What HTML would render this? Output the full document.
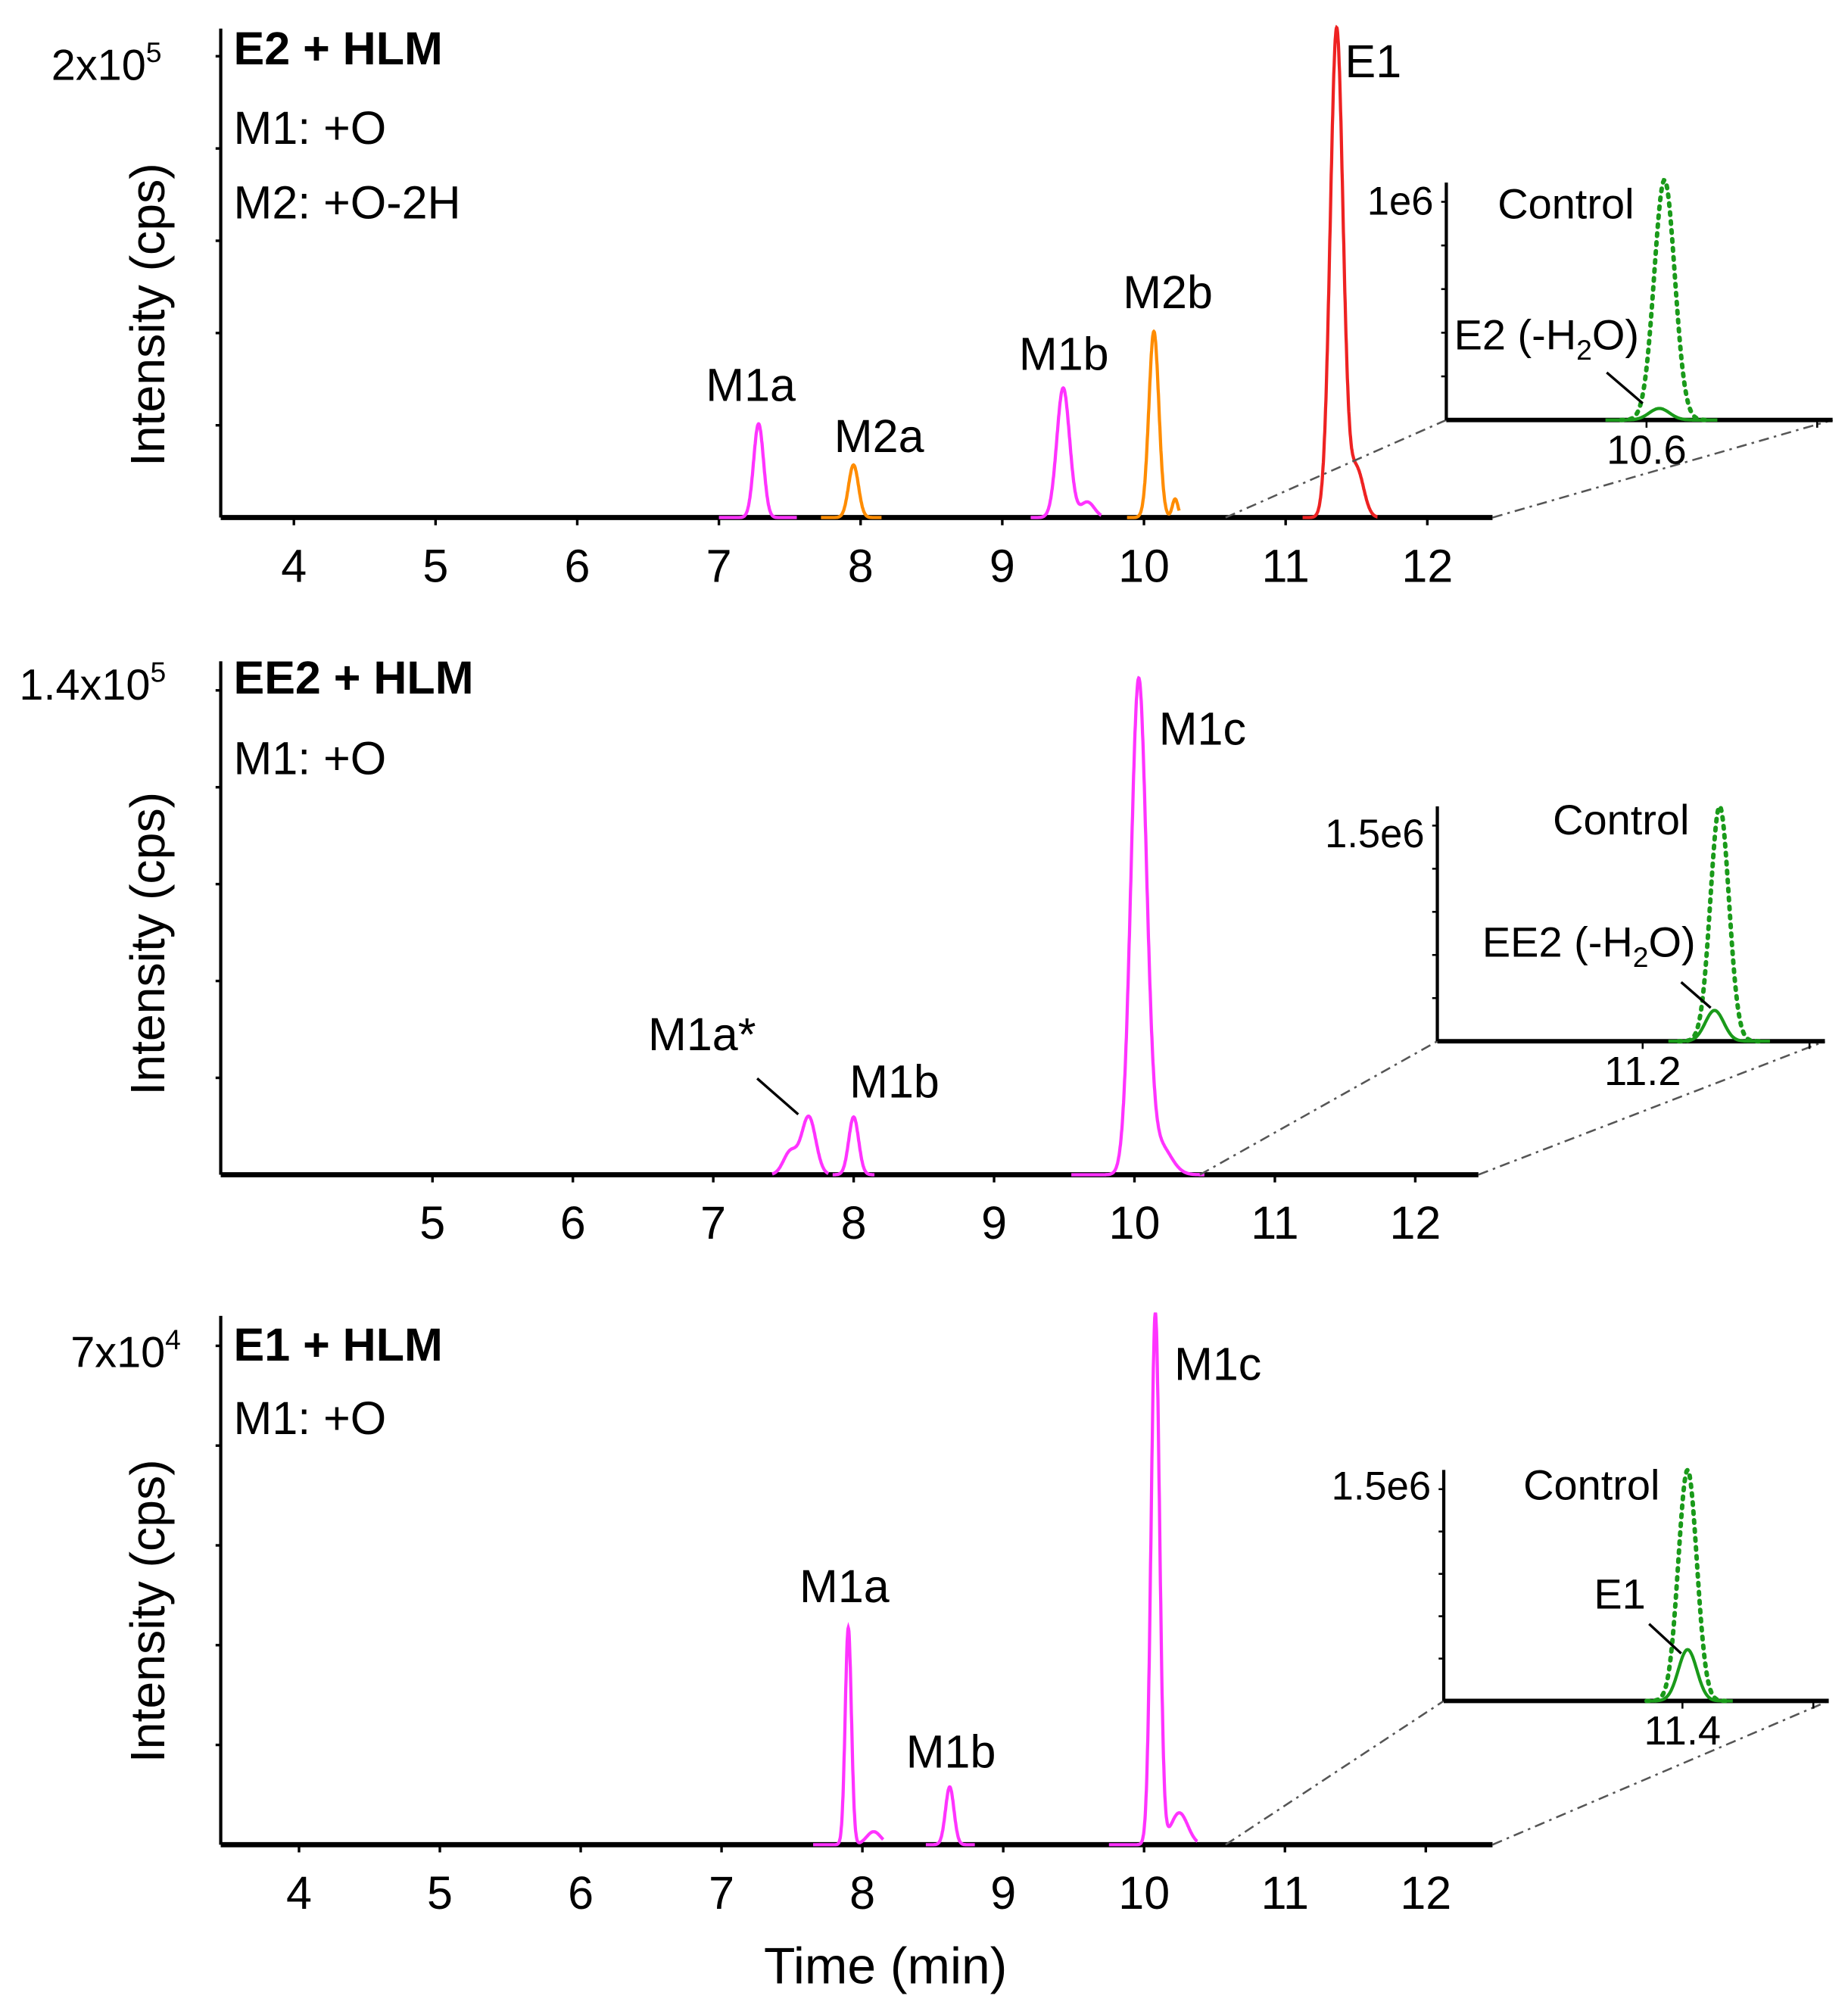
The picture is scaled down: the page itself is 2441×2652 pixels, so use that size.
<!DOCTYPE html>
<html><head><meta charset="utf-8">
<style>
html,body{margin:0;padding:0;background:#fff;}
svg{display:block;}
text{font-family:"Liberation Sans",sans-serif;fill:#000;}
</style></head>
<body>
<svg id="s" xmlns="http://www.w3.org/2000/svg" width="2441" height="2652" viewBox="0 0 1440 1564">
</svg>
<script>
const S=document.getElementById('s');let h='';
function T(x,y,t,o){o=o||{};h+=`<text x="${x}" y="${y}" font-size="${o.fs||34}" ${o.a?`text-anchor="${o.a}"`:''} ${o.b?'font-weight="bold"':''} ${o.tr?`transform="${o.tr}"`:''}>${t}</text>`;}
function L(x1,y1,x2,y2,w,extra){h+=`<line x1="${x1}" y1="${y1}" x2="${x2}" y2="${y2}" stroke="${(extra&&extra.c)||'#000'}" stroke-width="${w||2}" ${(extra&&extra.d)?`stroke-dasharray="${extra.d}"`:''}/>`;}
function peak(X,base,cx,top,sig,col,w0,w1,dash,sh){let p='';for(let t=w0;t<=w1;t+=0.002){let v=Math.exp(-((t-cx)**2)/(2*sig*sig));if(sh)v+=sh[0]*Math.exp(-((t-sh[1])**2)/(2*sh[2]*sh[2]));p+=(p?'L':'M')+X(t).toFixed(1)+','+(base-(base-top)*v).toFixed(1);}
h+=`<path d="${p}" fill="none" stroke="${col}" stroke-width="${dash?3.5:2.5}" ${dash?'stroke-dasharray="2,5" stroke-linecap="round"':''}/>`;}
function axes(ax,top,base,right,x0,t0,k,ticks,ylab,ly){
  L(ax,top,ax,base,2.5);L(ax,base,right,base,4);
  for(let i=1;i<=5;i++){let y=base-(base-top)*i/5.3;L(ax-4,y,ax,y,2);}
  ticks.forEach(t=>{let x=x0+(t-t0)*k;L(x,base,x,base+6,2);T(x,base+50,t,{a:'middle',fs:36});});
  T(128,ly,'Intensity (cps)',{a:'middle',fs:38,tr:`rotate(-90 128 ${ly})`});
}
function inset(ax,top,base,right,tl,tly,tick){
  L(ax,top,ax,base,2.5);L(ax,base,right,base,3.5);
  for(let i=1;i<=5;i++){let y=base-(base-top-15)*i/5;L(ax-4,y,ax,y,1.5);}
  T(ax-10,tly,tl,{a:'end',fs:31});
  L(tick[0],base,tick[0],base+6,1.5);T(tick[0],base+34,tick[1],{a:'middle',fs:32});
  L(right-12,base,right-12,base+6,1.5);
}
function dd(x1,y1,x2,y2){L(x1,y1,x2,y2,1.5,{d:'8,4,2,4',c:'#555'});}
// Panel 1
let X1=t=>229+(t-4)*110.4;
axes(172,22,403,1163,229,4,110.4,[4,5,6,7,8,9,10,11,12],0,245);
T(40,62,'2x10<tspan font-size="22" dy="-14">5</tspan>',{fs:34});
T(182,50,'E2 + HLM',{b:1,fs:36});T(182,112,'M1: +O',{fs:36});T(182,170,'M2: +O-2H',{fs:36});
peak(X1,403,7.28,330,0.035,'#ff33ff',7.0,7.55);
peak(X1,403,7.95,362,0.035,'#ff8c00',7.72,8.15);
peak(X1,403,9.43,302,0.045,'#ff33ff',9.2,9.7,0,[0.12,9.6,0.05]);
peak(X1,403,10.07,258,0.035,'#ff8c00',9.88,10.25,0,[0.1,10.22,0.02]);
peak(X1,403,11.36,22,0.045,'#ee2222',11.12,11.65,0,[0.1,11.5,0.05]);
T(585,312,'M1a',{a:'middle',fs:36});T(685,352,'M2a',{a:'middle',fs:36});T(829,288,'M1b',{a:'middle',fs:36});T(910,240,'M2b',{a:'middle',fs:36});T(1048,60,'E1',{fs:36});
dd(955,403,1127,327);dd(1163,403,1428,327);
inset(1127,142,327,1428,'1e6',167,[1283,'10.6']);
let I1=t=>1283+(t-10.6)*400;
peak(I1,327,10.635,140,0.02,'#1a9a1a',10.55,10.72,1);
peak(I1,327,10.625,318,0.02,'#1a9a1a',10.52,10.74);
T(1167,170,'Control',{fs:33});T(1133,272,'E2 (-H<tspan font-size="22" dy="8">2</tspan><tspan dy="-8">O)</tspan>',{fs:33});
L(1252,290,1280,314,2);
// Panel 2
let X2=t=>337+(t-5)*109.4;
axes(172,515,915,1152,337,5,109.4,[5,6,7,8,9,10,11,12],0,735);
T(15,545,'1.4x10<tspan font-size="22" dy="-14">5</tspan>',{fs:34});
T(182,540,'EE2 + HLM',{b:1,fs:36});T(182,603,'M1: +O',{fs:36});
peak(X2,915,7.68,870,0.05,'#ff33ff',7.42,7.82,0,[0.4,7.55,0.05]);
peak(X2,915,8.0,870,0.035,'#ff33ff',7.85,8.15);
peak(X2,915,10.03,532,0.055,'#ff33ff',9.55,10.5,0,[0.06,10.18,0.08]);
T(547,818,'M1a*',{a:'middle',fs:36});L(590,840,622,868,2);T(697,855,'M1b',{a:'middle',fs:36});T(903,580,'M1c',{fs:36});
dd(935,915,1120,811);dd(1152,915,1422,811);
inset(1120,628,811,1422,'1.5e6',660,[1280,'11.2']);
let I2=t=>1280+(t-11.2)*400;
peak(I2,811,11.35,628,0.018,'#1a9a1a',11.27,11.43,1);
peak(I2,811,11.34,787,0.018,'#1a9a1a',11.25,11.45);
T(1210,650,'Control',{fs:33});T(1155,745,'EE2 (-H<tspan font-size="22" dy="8">2</tspan><tspan dy="-8">O)</tspan>',{fs:33});
L(1310,765,1333,785,2);
// Panel 3
let X3=t=>233+(t-4)*109.75;
axes(172,1025,1437,1163,233,4,109.75,[4,5,6,7,8,9,10,11,12],0,1255);
T(55,1065,'7x10<tspan font-size="22" dy="-14">4</tspan>',{fs:34});
T(182,1060,'E1 + HLM',{b:1,fs:36});T(182,1117,'M1: +O',{fs:36});
peak(X3,1437,7.9,1268,0.022,'#ff33ff',7.65,8.15,0,[0.06,8.08,0.05]);
peak(X3,1437,8.62,1392,0.03,'#ff33ff',8.45,8.8);
peak(X3,1437,10.08,1023,0.03,'#ff33ff',9.75,10.38,0,[0.06,10.25,0.06]);
T(658,1248,'M1a',{a:'middle',fs:36});T(741,1377,'M1b',{a:'middle',fs:36});T(915,1075,'M1c',{fs:36});
dd(955,1437,1125,1325);dd(1163,1437,1425,1325);
inset(1125,1145,1325,1425,'1.5e6',1168,[1311,'11.4']);
let I3=t=>1311+(t-11.4)*400;
peak(I3,1325,11.41,1145,0.018,'#1a9a1a',11.33,11.49,1);
peak(I3,1325,11.41,1285,0.018,'#1a9a1a',11.33,11.5);
T(1187,1168,'Control',{fs:33});T(1242,1253,'E1',{fs:33});L(1285,1265,1310,1288,2);
T(690,1545,'Time (min)',{a:'middle',fs:40});
S.innerHTML=h;
</script>
</body></html>
